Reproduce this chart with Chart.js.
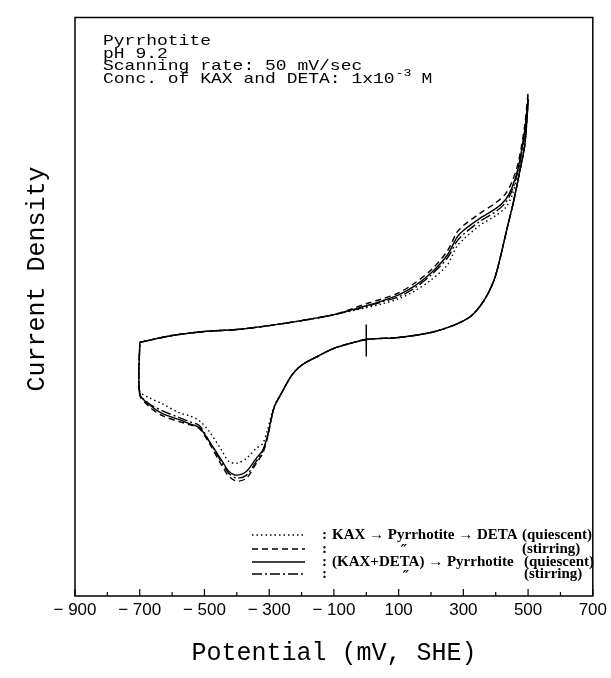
<!DOCTYPE html>
<html>
<head>
<meta charset="utf-8">
<script src="https://cdn.jsdelivr.net/npm/chart.js@4.4.1/dist/chart.umd.min.js"></script>
<style>
  html, body { margin: 0; padding: 0; background: #fff; }
  #wrap { width: 611px; height: 678px; }
</style>
</head>
<body>
<div id="wrap"><canvas id="cv" width="611" height="678"></canvas></div>
<script>
// Potential sweep (mV vs SHE): anodic branch up to +500, cathodic branch back to -700, closed at -700
const potentialsUp = [-700, -600, -500, -400, -300, -200, -100, 0, 50, 100, 150, 200, 250, 280, 300, 350, 400, 430, 450, 470, 490, 500];
const potentialsDown = [490, 475, 455, 435, 415, 395, 365, 325, 275, 200, 100, 0, -50, -100, -150, -200, -230,
  -260, -285, -305, -320, -340, -370, -400, -425, -445, -485, -516, -547, -578, -630, -670, -700];
const potentials = [...potentialsUp, ...potentialsDown, -700];

// Current density, arbitrary units (same order as potentials)
const kaxThenDetaQuiescent = [256, 263, 267, 269, 273, 278, 284, 291, 295, 300, 308, 319, 334, 353, 360, 374, 384, 392, 404, 429, 468, 501,
  456, 430, 398, 371, 343, 319, 299, 283, 274, 266, 261, 259, 255, 250, 242, 233, 223,
  206, 191, 168, 154, 149, 139, 134, 136, 146, 166, 177, 182, 185, 194, 200, 207, 256];
const kaxThenDetaStirring = [256, 263, 267, 269, 273, 278, 284, 295, 300, 306, 316, 329, 348, 367, 374, 386, 397, 406, 418, 438, 476, 508,
  456, 430, 398, 371, 343, 319, 299, 283, 274, 266, 261, 259, 255, 250, 242, 233, 223,
  206, 190, 160, 144, 134, 119, 116, 121, 131, 154, 169, 173, 176, 182, 191, 203, 256];
const mixedQuiescent = [256, 263, 267, 269, 273, 278, 284, 293, 298, 304, 313, 326, 344, 362, 369, 381, 391, 400, 412, 433, 471, 501,
  456, 430, 398, 371, 343, 319, 299, 283, 274, 266, 261, 259, 255, 250, 242, 233, 223,
  206, 190, 162, 147, 139, 126, 122, 126, 136, 156, 170, 174, 178, 184, 193, 204, 256];
const mixedStirring = [256, 263, 267, 269, 273, 278, 284, 292, 297, 302, 311, 324, 341, 358, 365, 378, 388, 397, 409, 431, 469, 501,
  456, 430, 398, 371, 343, 319, 299, 283, 274, 266, 261, 259, 255, 250, 242, 233, 223,
  206, 190, 161, 146, 136, 122, 119, 124, 134, 156, 172, 176, 180, 187, 194, 204, 256];

// start of the sweep (rest potential) marker
const markerPotential = [0];
const markerCurrent = [258];

const xMin = -900, xMax = 700;

const toPoints = ys => potentials.map((p, i) => ({ x: p, y: ys[i] }));

const series = [
  { label: 'KAX → Pyrrhotite → DETA (quiescent)', data: kaxThenDetaQuiescent, dash: [1.5, 3] },
  { label: 'KAX → Pyrrhotite → DETA (stirring)', data: kaxThenDetaStirring, dash: [6, 4] },
  { label: '(KAX+DETA) → Pyrrhotite (quiescent)', data: mixedQuiescent, dash: [] },
  { label: '(KAX+DETA) → Pyrrhotite (stirring)', data: mixedStirring, dash: [10, 3, 2, 3] }
];

const datasets = series.map(s => ({
  label: s.label,
  data: toPoints(s.data),
  showLine: true,
  borderColor: '#000',
  borderWidth: 1.4,
  borderDash: s.dash,
  pointRadius: 0,
  tension: 0.3,
  borderJoinStyle: 'round',
  fill: false
}));

datasets.push({
  label: 'start',
  data: markerPotential.map((p, i) => ({ x: p, y: markerCurrent[i] })),
  pointStyle: 'line',
  rotation: 90,
  pointRadius: 16,
  borderColor: '#000',
  backgroundColor: '#000',
  pointBorderWidth: 1.5,
  showLine: false
});

// monospace text stretched sideways, to get the wide typewriter look of the original
function wideText(ctx, text, x, y, size, stretch) {
  ctx.save();
  ctx.font = size + 'px "Liberation Mono"';
  ctx.translate(x, y);
  ctx.scale(stretch, 1);
  ctx.fillText(text, 0, 0);
  const w = ctx.measureText(text).width * stretch;
  ctx.restore();
  return w;
}

const decor = {
  id: 'decor',
  afterDraw(chart) {
    const { ctx, chartArea: a, scales: { x } } = chart;
    ctx.save();
    ctx.strokeStyle = '#000';
    ctx.fillStyle = '#000';
    ctx.lineWidth = 1.5;
    ctx.strokeRect(a.left, a.top, a.right - a.left, a.bottom - a.top);

    // inward ticks, longer at the labelled ones
    ctx.lineWidth = 1.2;
    x.ticks.forEach(t => {
      const px = x.getPixelForValue(t.value);
      const len = (t.value - xMin) % 200 === 0 ? 7 : 4;
      ctx.beginPath();
      ctx.moveTo(px, a.bottom);
      ctx.lineTo(px, a.bottom - len);
      ctx.stroke();
    });

    // y axis title
    ctx.save();
    ctx.translate(37, 279);
    ctx.rotate(-Math.PI / 2);
    ctx.font = '25px "Liberation Mono"';
    ctx.textAlign = 'center';
    ctx.textBaseline = 'middle';
    ctx.fillText('Current Density', 0, 0);
    ctx.restore();

    // condition notes
    ctx.textAlign = 'left';
    ctx.textBaseline = 'alphabetic';
    wideText(ctx, 'Pyrrhotite', 103, 45, 15, 1.2);
    wideText(ctx, 'pH 9.2', 103, 58, 15, 1.2);
    wideText(ctx, 'Scanning rate: 50 mV/sec', 103, 70, 15, 1.2);
    let cx = 103 + wideText(ctx, 'Conc. of KAX and DETA: 1x10', 103, 83, 15, 1.2) + 1;
    cx += wideText(ctx, '-3', cx, 76, 11, 1.2) + 10;
    wideText(ctx, 'M', cx, 83, 15, 1.2);

    // legend
    const rows = [535, 549, 562, 574];
    ctx.lineWidth = 1.4;
    series.forEach((s, i) => {
      ctx.setLineDash(s.dash);
      ctx.beginPath();
      ctx.moveTo(252, rows[i]);
      ctx.lineTo(305, rows[i]);
      ctx.stroke();
    });
    ctx.setLineDash([]);
    ctx.font = 'bold 15px "Liberation Serif"';
    ctx.textBaseline = 'middle';
    rows.forEach(y => ctx.fillText(':', 322, y));
    ctx.fillText('KAX → Pyrrhotite → DETA', 332, rows[0]);
    ctx.textAlign = 'right';
    ctx.fillText('(quiescent)', 592, rows[0]);
    const q1 = 592 - ctx.measureText('(quiescent)').width;
    ctx.fillText('(quiescent)', 594, rows[2]);
    const q3 = 594 - ctx.measureText('(quiescent)').width;
    ctx.textAlign = 'left';
    ctx.fillText('(stirring)', q1, rows[1]);
    ctx.fillText('(KAX+DETA) → Pyrrhotite', 332, rows[2]);
    ctx.fillText('(stirring)', q3, rows[3]);
    // ditto marks
    ctx.font = 'bold italic 14px "DejaVu Serif"';
    ctx.textAlign = 'center';
    ctx.fillText('″', 404, rows[1] + 2);
    ctx.fillText('″', 406, rows[3] + 3);
    ctx.restore();
  }
};

new Chart(document.getElementById('cv'), {
  type: 'scatter',
  data: { datasets },
  options: {
    responsive: false,
    animation: false,
    devicePixelRatio: 1,
    layout: { padding: { top: 12, right: 15, left: 0, bottom: 0 } },
    plugins: { legend: { display: false }, tooltip: { enabled: false } },
    scales: {
      x: {
        type: 'linear',
        min: xMin,
        max: xMax,
        grid: { display: false, drawTicks: false },
        border: { display: false },
        ticks: {
          stepSize: 100,
          autoSkip: false,
          maxRotation: 0,
          padding: 4,
          color: '#000',
          font: { family: '"Liberation Sans"', size: 17 },
          callback: v => ((v - xMin) % 200 === 0 ? (v < 0 ? '\u2212 ' + Math.abs(v) : String(v)) : '')
        },
        title: {
          display: true,
          text: 'Potential (mV, SHE)',
          color: '#000',
          font: { family: '"Liberation Mono"', size: 25 },
          padding: { top: 0, bottom: 10 }
        },
        afterFit: s => { s.height = 82; }
      },
      y: {
        type: 'linear',
        min: 0,
        max: 584,
        grid: { display: false, drawTicks: false },
        border: { display: false },
        ticks: { display: false },
        afterFit: s => { s.width = 75; }
      }
    }
  },
  plugins: [decor]
});
</script>
</body>
</html>
